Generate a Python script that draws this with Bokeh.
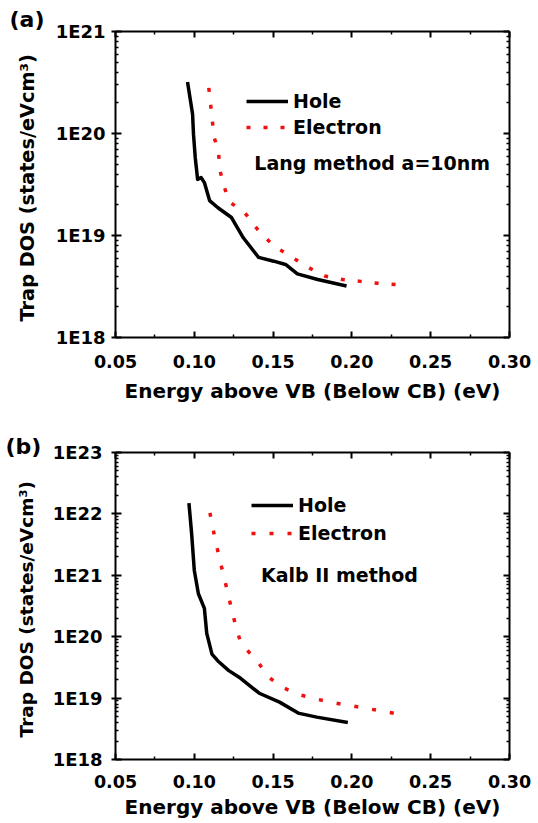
from bokeh.plotting import figure
from bokeh.layouts import column
from bokeh.models import (LinearAxis, LogAxis, FixedTicker, Title,
                          CustomJSTickFormatter, Legend, LegendItem, Label)
from bokeh.embed import file_html
from bokeh.resources import INLINE

# ---------------- data ----------------
# panel (a): Lang method a=10nm
hole_a_x = [0.0957, 0.0989, 0.0995, 0.1006, 0.1021, 0.1043, 0.1064, 0.1097, 0.1150,
            0.1236, 0.1311, 0.1408, 0.1504, 0.1579, 0.1654, 0.1783, 0.1966]
hole_a_y = [3.2e20, 1.55e20, 9.8e19, 5.8e19, 3.55e19, 3.7e19, 3.3e19, 2.2e19, 1.87e19,
            1.5e19, 9.5e18, 6.1e18, 5.6e18, 5.2e18, 4.2e18, 3.7e18, 3.2e18]
elec_a_x = [0.1092, 0.1103, 0.1114, 0.1124, 0.1154, 0.1161, 0.1187, 0.1221, 0.1322,
            0.1401, 0.1500, 0.1607, 0.1719, 0.1830, 0.1942, 0.2054, 0.2165, 0.2277]
elec_a_y = [2.8e20, 1.96e20, 1.36e20, 9.4e19, 6.5e19, 4.46e19, 3.1e19, 2.15e19, 1.66e19,
            1.15e19, 8.0e18, 6.3e18, 4.9e18, 4.0e18, 3.7e18, 3.55e18, 3.4e18, 3.3e18]

# panel (b): Kalb II method
hole_b_x = [0.0966, 0.0983, 0.1000, 0.1026, 0.1064, 0.1079, 0.1112, 0.1155, 0.1219,
            0.1294, 0.1412, 0.1541, 0.1659, 0.1777, 0.1974]
hole_b_y = [1.5e22, 4.8e21, 1.2e21, 5.0e20, 2.9e20, 1.13e20, 5.2e19, 3.9e19, 2.8e19,
            2.1e19, 1.2e19, 8.6e18, 5.7e18, 4.9e18, 4.0e18]
elec_b_x = [0.1099, 0.1120, 0.1142, 0.1165, 0.1191, 0.1215, 0.1240, 0.1266, 0.1298,
            0.1395, 0.1466, 0.1562, 0.1674, 0.1785, 0.1897, 0.2009, 0.2120, 0.2232, 0.2343]
elec_b_y = [1.04e22, 5.5e21, 3.0e21, 1.65e21, 8.9e20, 4.8e20, 2.6e20, 1.38e20, 7.5e19,
            4.2e19, 2.25e19, 1.48e19, 1.12e19, 9.5e18, 8.3e18, 7.4e18, 6.6e18, 5.9e18, 5.2e18]

x_ticks = [0.05, 0.10, 0.15, 0.20, 0.25, 0.30]
x_tick_labels = ["0.05", "0.10", "0.15", "0.20", "0.25", "0.30"]
y_ticks_a = [1e18, 1e19, 1e20, 1e21]
y_tick_labels_a = ["1E18", "1E19", "1E20", "1E21"]
y_ticks_b = [1e18, 1e19, 1e20, 1e21, 1e22, 1e23]
y_tick_labels_b = ["1E18", "1E19", "1E20", "1E21", "1E22", "1E23"]

series_names = ["Hole", "Electron"]
x_title = "Energy above VB (Below CB) (eV)"
y_title = "Trap DOS  (states/eVcm\u00b3)"
note_a = "Lang method a=10nm"
note_b = "Kalb II method"
tags = ["(a)", "(b)"]

FONT = "DejaVu Sans"
RED = "#f01010"


def fmt(tv, tl):
    return CustomJSTickFormatter(args=dict(tvals=tv, tlabs=tl), code="""
        for (let i = 0; i < tvals.length; i++) {
            if (Math.abs(Math.log10(tvals[i]) - Math.log10(tick)) < 1e-6) return tlabs[i];
        }
        return "";""")


def xfmt():
    return CustomJSTickFormatter(args=dict(tvals=x_ticks, tlabs=x_tick_labels), code="""
        for (let i = 0; i < tvals.length; i++) {
            if (Math.abs(tvals[i] - tick) < 1e-9) return tlabs[i];
        }
        return "";""")


def blank():
    return CustomJSTickFormatter(code="return '';")


def log_minor(tv):
    out = []
    for t in tv[:-1]:
        for k in range(2, 10):
            out.append(t * k)
    return out


def lin_minor(tv):
    return [(a + b) / 2 for a, b in zip(tv[:-1], tv[1:])]


def style_axis(ax, tick_in=6, tick_out=0, minor_in=3):
    ax.axis_line_width = 2
    ax.axis_line_color = "black"
    ax.major_tick_line_width = 2
    ax.minor_tick_line_width = 1.5
    ax.major_tick_in = tick_in
    ax.major_tick_out = tick_out
    ax.minor_tick_in = minor_in
    ax.minor_tick_out = 0
    ax.major_label_text_font = FONT
    ax.major_label_text_font_style = "bold"
    ax.major_label_text_color = "black"
    ax.axis_label_text_font = FONT
    ax.axis_label_text_font_style = "bold"
    ax.axis_label_text_font_size = "20px"
    ax.axis_label_text_color = "black"


def make_panel(hx, hy, ex, ey, yticks, ylabels, note, note_xy, tag, dims):
    (height, bl, br, bt, bb, ystand, ylab_stand, ylab_size, xstand, xlab_stand,
     leg_loc, leg_spacing, dash, tag_offset, tag_standoff) = dims
    p = figure(width=537, height=height, x_range=(0.05, 0.30),
               y_range=(yticks[0], yticks[-1]), y_axis_type="log",
               output_backend="svg", toolbar_location=None,
               min_border_left=bl, min_border_right=br,
               min_border_top=bt, min_border_bottom=bb)
    p.outline_line_color = None
    p.grid.visible = False
    p.background_fill_color = "white"
    p.border_fill_color = "white"

    xt = FixedTicker(ticks=x_ticks, minor_ticks=lin_minor(x_ticks))
    yt = FixedTicker(ticks=yticks, minor_ticks=log_minor(yticks))

    xa = p.xaxis[0]
    xa.ticker = xt
    xa.formatter = xfmt()
    xa.axis_label = x_title
    style_axis(xa)
    xa.major_label_text_font_size = "17.5px"
    xa.major_label_standoff = xstand
    xa.axis_label_standoff = xlab_stand

    ya = p.yaxis[0]
    ya.ticker = yt
    ya.formatter = fmt(yticks, ylabels)
    ya.axis_label = y_title
    style_axis(ya, tick_out=4)
    ya.axis_label_text_font_size = ylab_size
    ya.major_label_text_font_size = "18px"
    ya.major_label_standoff = ystand
    ya.axis_label_standoff = ylab_stand

    top = LinearAxis(ticker=xt, formatter=blank())
    style_axis(top)
    top.major_label_standoff = 0
    top.major_label_text_font_size = "1px"
    p.add_layout(top, "above")

    right = LogAxis(ticker=yt, formatter=blank())
    style_axis(right)
    right.major_label_standoff = 0
    right.major_label_text_font_size = "1px"
    p.add_layout(right, "right")

    p.add_layout(Title(text=tag, align="left", offset=tag_offset, standoff=tag_standoff,
                       text_font=FONT, text_font_style="bold", text_font_size="22px",
                       text_color="black"), "above")

    r1 = p.line(hx, hy, line_color="black", line_width=3.5, line_join="round")
    r2 = p.line(ex, ey, line_color=RED, line_width=3.5, line_dash=dash)

    leg = Legend(items=[LegendItem(label=series_names[0], renderers=[r1]),
                        LegendItem(label=series_names[1], renderers=[r2])],
                 location=leg_loc, glyph_width=42, glyph_height=20,
                 label_height=20, label_standoff=5, spacing=leg_spacing,
                 padding=0, margin=0, border_line_color=None,
                 background_fill_alpha=0,
                 label_text_font=FONT, label_text_font_style="bold",
                 label_text_font_size="19px", label_text_color="black")
    p.add_layout(leg)

    p.add_layout(Label(x=note_xy[0], y=note_xy[1], text=note, text_font=FONT,
                       text_font_style="bold", text_font_size="19px",
                       text_baseline="middle", text_color="black"))
    return p


pa = make_panel(hole_a_x, hole_a_y, elec_a_x, elec_a_y, y_ticks_a, y_tick_labels_a,
                note_a, (0.1381, 5.1e19), tags[0],
                (405, 111, 28, 31, 67, 6, 14, "19.3px", 17, 8, (131, 199), 4, "4 13",
                 -106, 0))
pb = make_panel(hole_b_x, hole_b_y, elec_b_x, elec_b_y, y_ticks_b, y_tick_labels_b,
                note_b, (0.1423, 1.0e21), tags[1],
                (417, 115, 24, 47, 63, 9, 13, "18.5px", 15, 4, (136, 215), 6, "4 14",
                 -110, -13))

layout = column(pa, pb, spacing=0)
open("out.html", "w").write(file_html(layout, INLINE))
